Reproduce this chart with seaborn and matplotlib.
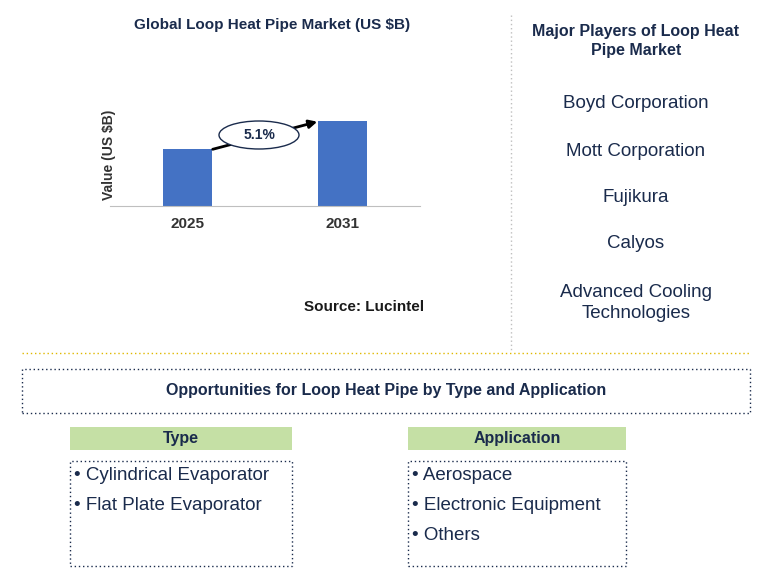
import matplotlib
matplotlib.use("Agg")
import matplotlib.pyplot as plt
import seaborn as sns
import pandas as pd
from matplotlib.patches import Rectangle, Ellipse

years = ["2025", "2031"]
values = [2.0, 3.0]
cagr = "5.1%"
players = ["Boyd Corporation", "Mott Corporation", "Fujikura", "Calyos", "Advanced Cooling\nTechnologies"]
types = ["Cylindrical Evaporator", "Flat Plate Evaporator"]
apps = ["Aerospace", "Electronic Equipment", "Others"]

W, H = 784, 576
fig = plt.figure(figsize=(7.84, 5.76), dpi=100)
navy = "#1a2b4c"
plt.rcParams["font.family"] = "Liberation Sans"

def fx(x): return x / W
def fy(y): return 1 - y / H

ax = fig.add_axes([fx(110), fy(206), fx(420) - fx(110), (206 - 104) / H])
df = pd.DataFrame({"year": years, "value": values})
sns.barplot(data=df, x="year", y="value", color="#4472c4", width=0.31, saturation=1, ax=ax)
ax.set_ylim(0, 3.6)
ax.set_xlim(-0.5, 1.5)
for s in ["top", "right", "left"]:
    ax.spines[s].set_visible(False)
ax.spines["bottom"].set_color("#bfbfbf")
ax.set_yticks([])
ax.set_xlabel("")
ax.set_ylabel("Value (US $B)", fontsize=10, fontweight="bold", color="#333333")
ax.yaxis.set_label_coords(0.02, 0.5)
ax.tick_params(axis="x", length=0, labelsize=11, pad=8)
for t in ax.get_xticklabels():
    t.set_fontweight("bold"); t.set_color("#333333")

fig.add_artist(matplotlib.patches.FancyArrowPatch((fx(210), fy(150)), (fx(320), fy(121)),
               transform=fig.transFigure, arrowstyle="-|>", mutation_scale=12, lw=2, color="black"))
fig.add_artist(Ellipse((fx(259), fy(135)), 80 / W, 28 / H, transform=fig.transFigure,
                       facecolor="white", edgecolor=navy, lw=1))
fig.text(fx(259), fy(135), cagr, ha="center", va="center", fontsize=10, fontweight="bold", color=navy)

fig.text(fx(272), fy(25), "Global Loop Heat Pipe Market (US $B)", ha="center", va="center",
         fontsize=11, fontweight="bold", color=navy)
fig.text(fx(364), fy(307), "Source: Lucintel", ha="center", va="center", fontsize=11, fontweight="bold", color="#1a1a1a")

fig.text(fx(636), fy(41), "Major Players of Loop Heat\nPipe Market", ha="center", va="center",
         fontsize=11.5, fontweight="bold", color=navy, linespacing=1.3)
for y, p in zip([104, 151, 197, 243, 303], players):
    fig.text(fx(636), fy(y), p, ha="center", va="center", fontsize=13.5, color=navy, linespacing=1.3)

fig.add_artist(plt.Line2D([fx(511), fx(511)], [fy(15), fy(350)], transform=fig.transFigure,
                          color="#bfbfbf", lw=1, ls=(0, (1, 2))))
fig.add_artist(plt.Line2D([fx(22), fx(750)], [fy(353), fy(353)], transform=fig.transFigure,
                          color="#e0b800", lw=1, ls=(0, (1, 2))))

def box(x0, y0, x1, y1, **kw):
    fig.add_artist(Rectangle((fx(x0), fy(y1)), fx(x1) - fx(x0), (y1 - y0) / H, transform=fig.transFigure, **kw))

box(22, 369, 750, 413, fill=False, edgecolor=navy, lw=1, ls=(0, (1, 2)))
fig.text(fx(386), fy(391), "Opportunities for Loop Heat Pipe by Type and Application", ha="center", va="center",
         fontsize=11.5, fontweight="bold", color=navy)

for (x0, x1, title, items) in [(70, 292, "Type", types), (408, 626, "Application", apps)]:
    box(x0, 427, x1, 450, facecolor="#c5e0a5", edgecolor="none")
    fig.text(fx((x0 + x1) / 2), fy(438.5), title, ha="center", va="center", fontsize=11.5,
             fontweight="bold", color=navy)
    box(x0, 461, x1, 566, fill=False, edgecolor=navy, lw=1, ls=(0, (1, 2)))
    for i, it in enumerate(items):
        fig.text(fx(x0 + 4), fy(476 + 30 * i), "\u2022 " + it, ha="left", va="center", fontsize=13.5, color=navy)

fig.savefig("out.png", dpi=100)
